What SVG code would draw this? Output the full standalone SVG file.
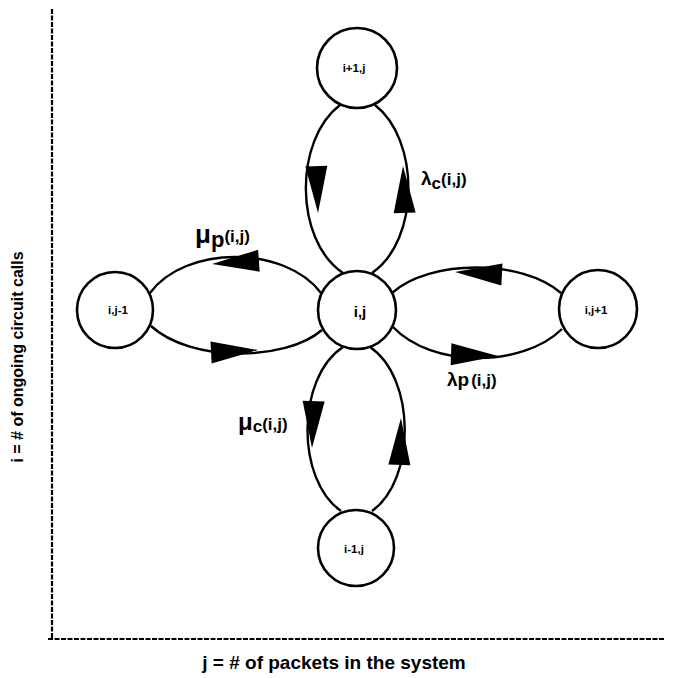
<svg xmlns="http://www.w3.org/2000/svg" xmlns:xlink="http://www.w3.org/1999/xlink" width="677" height="678" viewBox="0 0 677 678">
  <style>
    .bg { fill: #ffffff; }
    .node circle { fill: #ffffff; stroke: #000000; stroke-width: 2.6; }
    .node text { font-family: "Liberation Sans", Arial, sans-serif; font-weight: bold; font-size: 11.5px; fill: #000; text-anchor: middle; }
    .node text.big { font-size: 15px; }
    .edge { fill: none; stroke: #000000; stroke-width: 2.4; }
    .axis { fill: none; stroke: #000000; stroke-width: 2.2; stroke-dasharray: 5 1.5; }
    .lbl { font-family: "Liberation Sans", Arial, sans-serif; font-weight: bold; fill: #000; }
    .ah { fill: #000000; }
  </style>
  <defs>
    <!-- arrowhead with its tip at the origin, pointing along +x -->
    <path id="ah" d="M0,0 L-47,-11 L-47,11 Z"/>
  </defs>

  <rect class="bg" x="0" y="0" width="677" height="678"/>

  <!-- axes -->
  <g id="axes">
    <line class="axis" x1="52" y1="9" x2="52" y2="640"/>
    <line class="axis" x1="48" y1="639" x2="664" y2="639"/>
    <text class="lbl" font-size="19" x="334" y="669" text-anchor="middle">j = # of packets in the system</text>
    <text class="lbl" font-size="16" transform="translate(23,357) rotate(-90)" text-anchor="middle">i = # of ongoing circuit calls</text>
  </g>

  <!-- transitions -->
  <g id="connectors">
    <!-- i,j <-> i+1,j -->
    <path class="edge" d="M340,105 C294,140 294,240 343,273"/>
    <path class="edge" d="M375,105 C420,140 420,240 372,273"/>
    <!-- i,j-1 <-> i,j -->
    <path class="edge" d="M150,293 C185,245 285,245 321,293"/>
    <path class="edge" d="M151,326 C190,362 285,362 322,330"/>
    <!-- i,j <-> i,j+1 -->
    <path class="edge" d="M392,293 C430,259 522,259 561,293"/>
    <path class="edge" d="M393,327 C432,368 522,368 562,329"/>
    <!-- i-1,j <-> i,j -->
    <path class="edge" d="M343,347 C296,378 296,480 341,511"/>
    <path class="edge" d="M370,347 C416,378 416,480 372,511"/>

    <!-- arrowheads -->
    <use class="ah" xlink:href="#ah" transform="translate(318,213) rotate(88)"/>
    <use class="ah" xlink:href="#ah" transform="translate(403,166) rotate(-92)"/>
    <use class="ah" xlink:href="#ah" transform="translate(212,264) rotate(176)"/>
    <use class="ah" xlink:href="#ah" transform="translate(258,350) rotate(-3)"/>
    <use class="ah" xlink:href="#ah" transform="translate(455,272) rotate(183)"/>
    <use class="ah" xlink:href="#ah" transform="translate(498,356) rotate(2)"/>
    <use class="ah" xlink:href="#ah" transform="translate(312,448) rotate(92)"/>
    <use class="ah" xlink:href="#ah" transform="translate(401,418) rotate(-88)"/>
  </g>

  <!-- states -->
  <g id="node-i1j" class="node">
    <circle cx="357" cy="68" r="40"/>
    <text x="354" y="72">i+1,j</text>
  </g>
  <g id="node-ijm1" class="node">
    <circle cx="115" cy="310" r="38"/>
    <text x="118" y="314">i,j-1</text>
  </g>
  <g id="node-ij" class="node">
    <circle cx="357" cy="310" r="39"/>
    <text class="big" x="360" y="317">i,j</text>
  </g>
  <g id="node-ijp1" class="node">
    <circle cx="598" cy="309" r="39"/>
    <text x="596" y="314">i,j+1</text>
  </g>
  <g id="node-im1j" class="node">
    <circle cx="356" cy="548" r="38"/>
    <text x="354" y="553">i-1,j</text>
  </g>

  <!-- rate labels -->
  <g id="labels">
    <text class="lbl" x="195" y="243"><tspan font-size="26">μ</tspan><tspan font-size="22" dy="4">p</tspan><tspan font-size="17" dy="-5">(i,j)</tspan></text>
    <text class="lbl" x="421" y="185"><tspan font-size="19">λ</tspan><tspan font-size="17" dy="4">c</tspan><tspan font-size="17" dy="-4">(i,j)</tspan></text>
    <text class="lbl" x="447" y="386"><tspan font-size="19">λp</tspan><tspan font-size="17" dx="2">(i,j)</tspan></text>
    <text class="lbl" x="238" y="430"><tspan font-size="24">μ</tspan><tspan font-size="17" dy="2">c</tspan><tspan font-size="17" dy="-2">(i,j)</tspan></text>
  </g>
</svg>
